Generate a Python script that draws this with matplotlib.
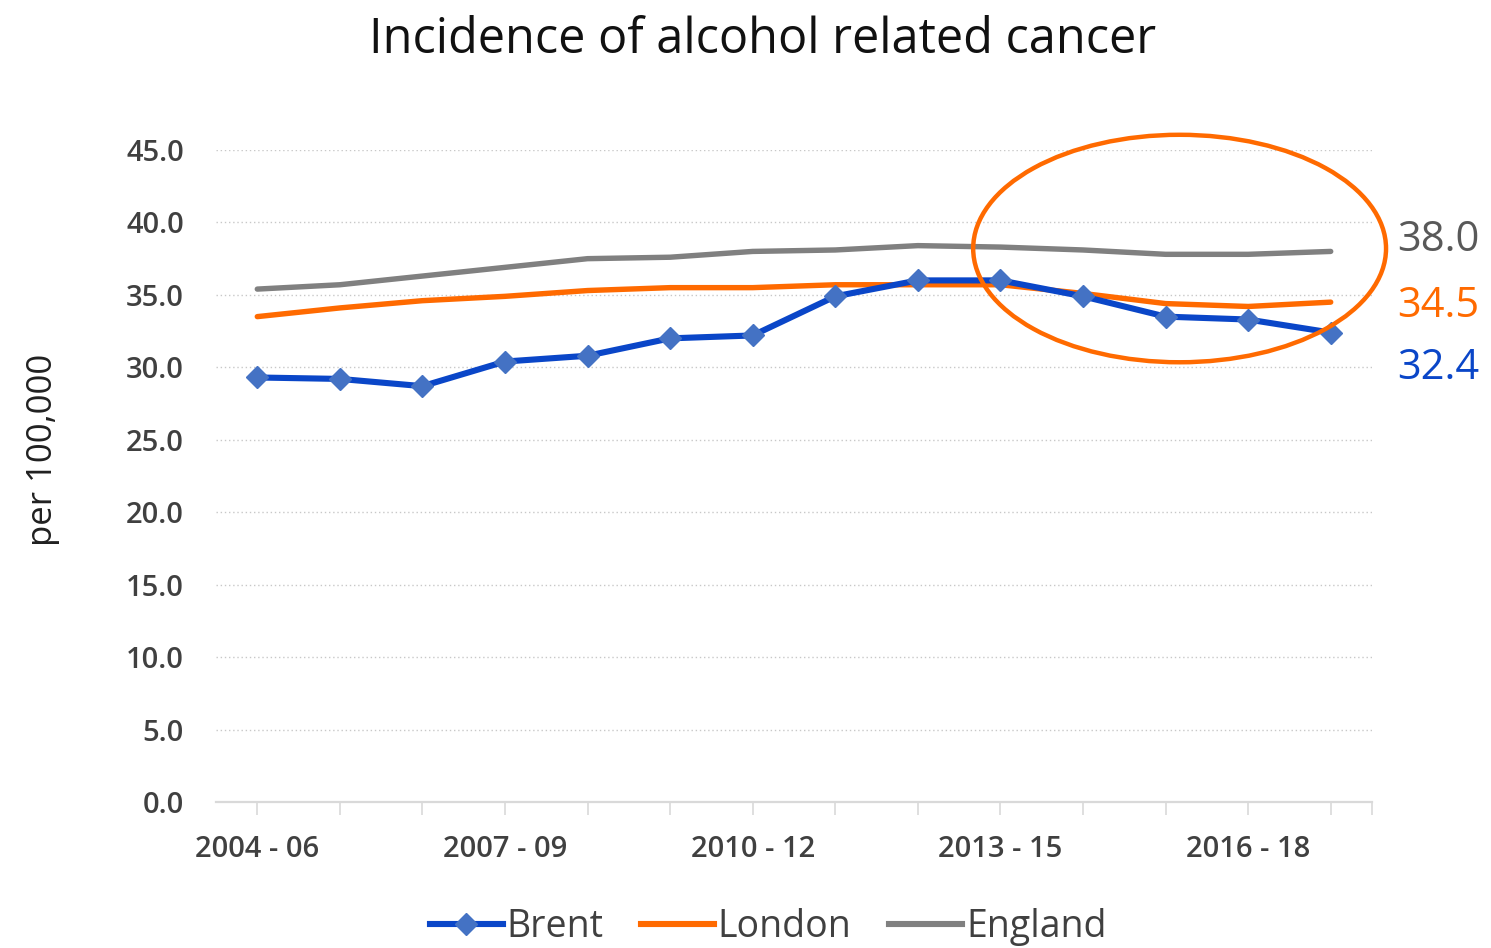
import matplotlib
matplotlib.use("Agg")
import matplotlib.pyplot as plt
from matplotlib.patches import Ellipse
from matplotlib.lines import Line2D

periods = ["2004 - 06", "2005 - 07", "2006 - 08", "2007 - 09", "2008 - 10", "2009 - 11",
           "2010 - 12", "2011 - 13", "2012 - 14", "2013 - 15", "2014 - 16", "2015 - 17",
           "2016 - 18", "2017 - 19"]
brent = [29.3, 29.2, 28.7, 30.4, 30.8, 32.0, 32.2, 34.9, 36.0, 36.0, 34.9, 33.5, 33.3, 32.4]
london = [33.5, 34.1, 34.6, 34.9, 35.3, 35.5, 35.5, 35.7, 35.7, 35.7, 35.1, 34.4, 34.2, 34.5]
england = [35.4, 35.7, 36.3, 36.9, 37.5, 37.6, 38.0, 38.1, 38.4, 38.3, 38.1, 37.8, 37.8, 38.0]
yticks = [0, 5, 10, 15, 20, 25, 30, 35, 40, 45]

FONT = ["Open Sans", "DejaVu Sans"]
plt.rcParams['font.family'] = FONT

C_BRENT = "#0A46C8"
C_BRENT_M = "#4472C4"
C_LONDON = "#FF6A00"
C_ENGLAND = "#808080"
TXT = "#404040"

fig = plt.figure(figsize=(14.91, 9.48), dpi=100)
ax = fig.add_axes([216/1491, 1-802/948, (1372-216)/1491, (802-150)/948])

x = list(range(len(periods)))
ax.plot(x, england, color=C_ENGLAND, lw=3.9, solid_capstyle='round', zorder=3)
ax.plot(x, london, color=C_LONDON, lw=3.9, solid_capstyle='round', zorder=4)
ax.plot(x, brent, color=C_BRENT, lw=4.4, marker='D', ms=11, mfc=C_BRENT_M, mec=C_BRENT_M,
        solid_capstyle='round', zorder=5)

ax.set_xlim(-0.5, len(periods) - 0.5)
ax.set_ylim(0, 45)
ax.set_yticks(yticks)
ax.set_yticklabels([f"{v:.1f}" for v in yticks], fontsize=21, color=TXT, fontweight='semibold')
ax.set_xticks(x)
ax.set_xticklabels([p if i % 3 == 0 else "" for i, p in enumerate(periods)],
                   fontsize=21, color=TXT, fontweight='semibold')
ax.set_xticks([len(periods) - 0.5], minor=True)
ax.tick_params(axis='x', which='both', length=9.5, width=1.2, color="#D9D9D9", pad=14)
ax.tick_params(axis='y', length=0, pad=23)

for s in ['top', 'right', 'left']:
    ax.spines[s].set_visible(False)
ax.spines['bottom'].set_color("#D9D9D9")
ax.spines['bottom'].set_linewidth(1.6)
ax.yaxis.grid(True, linestyle=(0, (1, 2)), color="#C8C8C8", lw=1.0)
ax.set_axisbelow(True)

fig.text(43/1491, 1-450/948, "per 100,000", rotation=90, ha='center', va='center',
         fontsize=25, color="#202020")

fig.text(763/1491, 1-40/948, "Incidence of alcohol related cancer", ha='center', va='center',
         fontsize=35, color="#111111")

# end labels
for val, col, ypos in [(england[-1], "#595959", 38.8), (london[-1], C_LONDON, 34.2),
                       (brent[-1], C_BRENT, 29.95)]:
    ax.annotate(f"{val:.1f}", xy=((1397-216)/(1372-216), ypos),
                xycoords=('axes fraction', 'data'), ha='left', va='center',
                fontsize=30, color=col, annotation_clip=False)

# highlight ellipse
ell = Ellipse((11.17, 38.2), 5.0, 15.7, fill=False, edgecolor=C_LONDON, lw=3.2,
              clip_on=False, zorder=6)
ax.add_patch(ell)

handles = [Line2D([], [], color=C_BRENT, lw=4.4, marker='D', ms=11, mfc=C_BRENT_M, mec=C_BRENT_M),
           Line2D([], [], color=C_LONDON, lw=4.4),
           Line2D([], [], color=C_ENGLAND, lw=4.4)]
fig.legend(handles, ["Brent", "London", "England"], loc='center', bbox_to_anchor=(768/1491, 1-927/948),
           ncol=3, frameon=False, fontsize=27, handlelength=1.95, handletextpad=0.1,
           columnspacing=1.0, labelcolor=TXT)

fig.savefig("out.png", dpi=100)
